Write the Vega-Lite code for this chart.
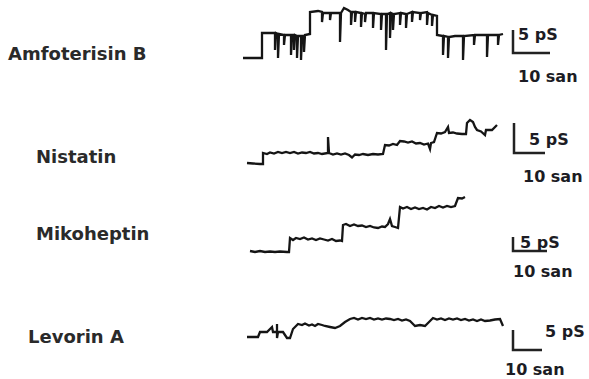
{
  "$schema": "https://vega.github.io/schema/vega-lite/v6.json",
  "width": 589,
  "height": 379,
  "autosize": {"type": "fit", "contains": "padding"},
  "padding": 0,
  "background": "white",
  "config": {"view": {"stroke": null}},
  "datasets": {
    "traces": [
      {"s":"A","t":24.3,"i":32.1},{"s":"A","t":26.2,"i":32.1},{"s":"A","t":26.2,"i":34.6},{"s":"A","t":27.0,"i":34.6},{"s":"A","t":27.5,"i":34.6},{"s":"A","t":27.5,"i":32.9},{"s":"A","t":27.6,"i":34.6},{"s":"A","t":27.8,"i":34.5},{"s":"A","t":27.8,"i":32.1},{"s":"A","t":27.9,"i":34.5},{"s":"A","t":28.4,"i":34.4},{"s":"A","t":28.4,"i":33.4},{"s":"A","t":28.5,"i":34.4},{"s":"A","t":29.1,"i":34.4},{"s":"A","t":29.1,"i":32.4},{"s":"A","t":29.2,"i":34.4},{"s":"A","t":29.4,"i":34.4},{"s":"A","t":29.4,"i":32.9},{"s":"A","t":29.5,"i":34.4},{"s":"A","t":29.7,"i":34.3},{"s":"A","t":29.7,"i":32.1},{"s":"A","t":29.8,"i":34.3},{"s":"A","t":30.1,"i":34.3},{"s":"A","t":30.1,"i":31.9},{"s":"A","t":30.2,"i":34.3},{"s":"A","t":30.4,"i":34.3},{"s":"A","t":30.4,"i":32.7},{"s":"A","t":30.5,"i":34.4},{"s":"A","t":31.0,"i":34.5},{"s":"A","t":31.0,"i":36.7},{"s":"A","t":31.8,"i":36.8},{"s":"A","t":32.2,"i":36.7},{"s":"A","t":32.2,"i":35.7},{"s":"A","t":32.3,"i":36.6},{"s":"A","t":33.0,"i":36.6},{"s":"A","t":33.0,"i":35.9},{"s":"A","t":33.1,"i":36.6},{"s":"A","t":34.0,"i":36.6},{"s":"A","t":34.0,"i":33.7},{"s":"A","t":34.1,"i":36.6},{"s":"A","t":34.4,"i":37.1},{"s":"A","t":34.8,"i":36.9},{"s":"A","t":35.1,"i":36.7},{"s":"A","t":35.1,"i":35.4},{"s":"A","t":35.2,"i":36.7},{"s":"A","t":35.5,"i":36.7},{"s":"A","t":35.5,"i":35.7},{"s":"A","t":35.6,"i":36.7},{"s":"A","t":36.1,"i":36.6},{"s":"A","t":36.1,"i":35.2},{"s":"A","t":36.2,"i":36.6},{"s":"A","t":36.5,"i":36.5},{"s":"A","t":36.5,"i":35.7},{"s":"A","t":36.6,"i":36.6},{"s":"A","t":37.3,"i":36.6},{"s":"A","t":37.3,"i":35.1},{"s":"A","t":37.4,"i":36.6},{"s":"A","t":38.1,"i":36.5},{"s":"A","t":38.1,"i":34.9},{"s":"A","t":38.2,"i":36.5},{"s":"A","t":38.6,"i":36.5},{"s":"A","t":38.6,"i":32.9},{"s":"A","t":38.7,"i":36.5},{"s":"A","t":39.0,"i":36.6},{"s":"A","t":39.0,"i":34.1},{"s":"A","t":39.1,"i":36.6},{"s":"A","t":39.3,"i":36.5},{"s":"A","t":39.3,"i":34.9},{"s":"A","t":39.4,"i":36.5},{"s":"A","t":40.0,"i":36.6},{"s":"A","t":40.0,"i":35.4},{"s":"A","t":40.1,"i":36.6},{"s":"A","t":40.6,"i":36.5},{"s":"A","t":40.6,"i":35.1},{"s":"A","t":40.7,"i":36.5},{"s":"A","t":41.2,"i":36.7},{"s":"A","t":41.2,"i":35.7},{"s":"A","t":41.3,"i":36.7},{"s":"A","t":42.0,"i":36.6},{"s":"A","t":42.0,"i":35.9},{"s":"A","t":42.1,"i":36.6},{"s":"A","t":42.7,"i":36.7},{"s":"A","t":42.7,"i":35.4},{"s":"A","t":42.8,"i":36.6},{"s":"A","t":43.2,"i":36.4},{"s":"A","t":43.2,"i":35.3},{"s":"A","t":43.3,"i":36.4},{"s":"A","t":43.7,"i":36.3},{"s":"A","t":43.7,"i":34.4},{"s":"A","t":44.3,"i":34.3},{"s":"A","t":44.3,"i":32.4},{"s":"A","t":44.4,"i":34.3},{"s":"A","t":44.8,"i":34.2},{"s":"A","t":44.8,"i":32.1},{"s":"A","t":44.9,"i":34.2},{"s":"A","t":45.5,"i":34.3},{"s":"A","t":46.3,"i":34.3},{"s":"A","t":46.3,"i":31.9},{"s":"A","t":46.4,"i":34.3},{"s":"A","t":47.4,"i":34.4},{"s":"A","t":47.4,"i":33.4},{"s":"A","t":47.5,"i":34.4},{"s":"A","t":48.7,"i":34.4},{"s":"A","t":48.7,"i":32.2},{"s":"A","t":48.8,"i":34.4},{"s":"A","t":49.8,"i":34.4},{"s":"A","t":49.8,"i":33.4},{"s":"A","t":49.9,"i":34.4},{"s":"A","t":50.3,"i":34.5},
      {"s":"N","t":24.7,"i":21.6},{"s":"N","t":25.3,"i":21.55},{"s":"N","t":26.0,"i":21.5},{"s":"N","t":26.3,"i":21.5},{"s":"N","t":26.3,"i":22.6},{"s":"N","t":26.7,"i":22.5},{"s":"N","t":27.0,"i":22.65},{"s":"N","t":27.4,"i":22.55},{"s":"N","t":27.8,"i":22.7},{"s":"N","t":28.2,"i":22.6},{"s":"N","t":28.6,"i":22.7},{"s":"N","t":29.0,"i":22.6},{"s":"N","t":29.4,"i":22.7},{"s":"N","t":29.8,"i":22.55},{"s":"N","t":30.2,"i":22.65},{"s":"N","t":30.6,"i":22.6},{"s":"N","t":31.0,"i":22.7},{"s":"N","t":31.4,"i":22.55},{"s":"N","t":31.8,"i":22.6},{"s":"N","t":32.2,"i":22.5},{"s":"N","t":32.8,"i":22.6},{"s":"N","t":32.8,"i":24.2},{"s":"N","t":32.9,"i":22.6},{"s":"N","t":33.3,"i":22.45},{"s":"N","t":33.7,"i":22.55},{"s":"N","t":34.1,"i":22.45},{"s":"N","t":34.5,"i":22.55},{"s":"N","t":34.9,"i":22.4},{"s":"N","t":35.2,"i":22.15},{"s":"N","t":35.5,"i":22.45},{"s":"N","t":35.9,"i":22.4},{"s":"N","t":36.3,"i":22.5},{"s":"N","t":36.8,"i":22.4},{"s":"N","t":37.3,"i":22.5},{"s":"N","t":37.8,"i":22.45},{"s":"N","t":38.3,"i":22.5},{"s":"N","t":38.5,"i":23.4},{"s":"N","t":38.9,"i":23.35},{"s":"N","t":39.3,"i":23.5},{"s":"N","t":39.7,"i":23.4},{"s":"N","t":40.0,"i":23.8},{"s":"N","t":40.4,"i":23.75},{"s":"N","t":40.8,"i":23.65},{"s":"N","t":41.2,"i":23.75},{"s":"N","t":41.6,"i":23.55},{"s":"N","t":42.0,"i":23.6},{"s":"N","t":42.4,"i":23.45},{"s":"N","t":42.8,"i":23.55},{"s":"N","t":43.0,"i":23.0},{"s":"N","t":43.1,"i":23.6},{"s":"N","t":43.4,"i":23.7},{"s":"N","t":43.7,"i":24.6},{"s":"N","t":44.1,"i":24.55},{"s":"N","t":44.5,"i":24.7},{"s":"N","t":44.8,"i":25.2},{"s":"N","t":44.9,"i":24.6},{"s":"N","t":45.3,"i":24.65},{"s":"N","t":45.7,"i":24.55},{"s":"N","t":46.2,"i":24.5},{"s":"N","t":46.6,"i":24.5},{"s":"N","t":46.7,"i":25.6},{"s":"N","t":47.0,"i":25.9},{"s":"N","t":47.3,"i":25.7},{"s":"N","t":47.5,"i":25.2},{"s":"N","t":47.7,"i":24.9},{"s":"N","t":48.1,"i":24.75},{"s":"N","t":48.5,"i":24.4},{"s":"N","t":48.6,"i":24.9},{"s":"N","t":49.2,"i":24.9},{"s":"N","t":49.7,"i":25.4},
      {"s":"M","t":25.0,"i":12.8},{"s":"M","t":25.5,"i":12.7},{"s":"M","t":26.0,"i":12.8},{"s":"M","t":26.5,"i":12.7},{"s":"M","t":27.0,"i":12.75},{"s":"M","t":27.5,"i":12.7},{"s":"M","t":28.0,"i":12.75},{"s":"M","t":28.7,"i":12.7},{"s":"M","t":28.9,"i":12.7},{"s":"M","t":29.0,"i":14.1},{"s":"M","t":29.3,"i":13.9},{"s":"M","t":29.6,"i":14.1},{"s":"M","t":30.0,"i":14.0},{"s":"M","t":30.4,"i":14.15},{"s":"M","t":30.8,"i":13.95},{"s":"M","t":31.2,"i":14.05},{"s":"M","t":31.6,"i":13.9},{"s":"M","t":32.0,"i":14.05},{"s":"M","t":32.4,"i":13.95},{"s":"M","t":32.8,"i":13.85},{"s":"M","t":33.2,"i":14.0},{"s":"M","t":33.6,"i":13.8},{"s":"M","t":34.0,"i":13.85},{"s":"M","t":34.2,"i":13.8},{"s":"M","t":34.3,"i":15.4},{"s":"M","t":34.6,"i":15.5},{"s":"M","t":35.0,"i":15.3},{"s":"M","t":35.4,"i":15.45},{"s":"M","t":35.8,"i":15.3},{"s":"M","t":36.2,"i":15.35},{"s":"M","t":36.6,"i":15.2},{"s":"M","t":37.0,"i":15.3},{"s":"M","t":37.4,"i":15.15},{"s":"M","t":37.8,"i":15.1},{"s":"M","t":38.2,"i":15.25},{"s":"M","t":38.5,"i":15.2},{"s":"M","t":38.8,"i":15.5},{"s":"M","t":39.0,"i":16.0},{"s":"M","t":39.2,"i":15.3},{"s":"M","t":39.5,"i":15.2},{"s":"M","t":39.8,"i":15.1},{"s":"M","t":40.0,"i":17.2},{"s":"M","t":40.3,"i":17.05},{"s":"M","t":40.7,"i":17.2},{"s":"M","t":41.1,"i":17.0},{"s":"M","t":41.5,"i":17.15},{"s":"M","t":41.9,"i":17.0},{"s":"M","t":42.3,"i":17.1},{"s":"M","t":42.7,"i":16.95},{"s":"M","t":43.1,"i":17.2},{"s":"M","t":43.5,"i":17.1},{"s":"M","t":43.9,"i":17.3},{"s":"M","t":44.3,"i":17.15},{"s":"M","t":44.7,"i":17.3},{"s":"M","t":45.1,"i":17.2},{"s":"M","t":45.5,"i":17.3},{"s":"M","t":45.8,"i":18.1},{"s":"M","t":46.2,"i":18.05},{"s":"M","t":46.5,"i":18.2},
      {"s":"L","t":24.7,"i":4.2},{"s":"L","t":25.8,"i":4.2},{"s":"L","t":26.0,"i":4.7},{"s":"L","t":26.7,"i":4.7},{"s":"L","t":27.2,"i":5.2},{"s":"L","t":27.3,"i":4.7},{"s":"L","t":27.7,"i":4.7},{"s":"L","t":27.7,"i":5.5},{"s":"L","t":27.7,"i":4.1},{"s":"L","t":27.8,"i":4.7},{"s":"L","t":28.3,"i":4.7},{"s":"L","t":28.7,"i":4.1},{"s":"L","t":29.0,"i":4.1},{"s":"L","t":29.3,"i":5.0},{"s":"L","t":29.8,"i":5.5},{"s":"L","t":30.2,"i":5.4},{"s":"L","t":30.5,"i":5.55},{"s":"L","t":30.9,"i":5.35},{"s":"L","t":31.2,"i":5.45},{"s":"L","t":31.5,"i":5.3},{"s":"L","t":31.8,"i":5.5},{"s":"L","t":32.2,"i":5.4},{"s":"L","t":32.5,"i":5.3},{"s":"L","t":33.0,"i":5.2},{"s":"L","t":33.5,"i":5.1},{"s":"L","t":34.0,"i":5.3},{"s":"L","t":34.5,"i":5.7},{"s":"L","t":35.0,"i":6.0},{"s":"L","t":35.4,"i":6.1},{"s":"L","t":35.8,"i":5.95},{"s":"L","t":36.2,"i":6.1},{"s":"L","t":36.6,"i":6.0},{"s":"L","t":37.0,"i":6.1},{"s":"L","t":37.4,"i":5.95},{"s":"L","t":37.8,"i":6.05},{"s":"L","t":38.2,"i":5.95},{"s":"L","t":38.6,"i":6.05},{"s":"L","t":39.0,"i":6.0},{"s":"L","t":39.4,"i":5.9},{"s":"L","t":39.8,"i":6.0},{"s":"L","t":40.2,"i":5.85},{"s":"L","t":40.6,"i":5.95},{"s":"L","t":41.0,"i":5.8},{"s":"L","t":41.5,"i":5.3},{"s":"L","t":42.0,"i":5.4},{"s":"L","t":42.5,"i":5.3},{"s":"L","t":43.3,"i":6.1},{"s":"L","t":43.7,"i":5.95},{"s":"L","t":44.1,"i":6.05},{"s":"L","t":44.5,"i":5.9},{"s":"L","t":44.9,"i":6.05},{"s":"L","t":45.3,"i":5.95},{"s":"L","t":45.7,"i":6.05},{"s":"L","t":46.1,"i":5.9},{"s":"L","t":46.5,"i":6.0},{"s":"L","t":46.9,"i":5.85},{"s":"L","t":47.3,"i":5.95},{"s":"L","t":47.7,"i":5.8},{"s":"L","t":48.1,"i":5.95},{"s":"L","t":48.5,"i":5.8},{"s":"L","t":49.0,"i":5.85},{"s":"L","t":49.5,"i":5.95},{"s":"L","t":50.0,"i":6.0},{"s":"L","t":50.3,"i":5.3}
    ],
    "bars": [
      {"s":"S1","t":51.3,"i":34.9},{"s":"S1","t":51.3,"i":32.6},{"s":"S1","t":55.0,"i":32.6},
      {"s":"S2","t":51.4,"i":25.6},{"s":"S2","t":51.4,"i":22.6},{"s":"S2","t":54.5,"i":22.6},
      {"s":"S3","t":51.3,"i":14.2},{"s":"S3","t":51.3,"i":12.8},{"s":"S3","t":54.7,"i":12.8},
      {"s":"S4","t":51.3,"i":4.9},{"s":"S4","t":51.3,"i":2.9},{"s":"S4","t":54.2,"i":2.9}
    ],
    "labels": [
      {"text":"Amfoterisin B","t":0.8,"i":31.9},
      {"text":"Nistatin","t":3.6,"i":21.6},
      {"text":"Mikoheptin","t":3.6,"i":13.9},
      {"text":"Levorin A","t":2.8,"i":3.6}
    ],
    "scaletext": [
      {"text":"5 pS","t":51.8,"i":33.9},
      {"text":"10 san","t":51.8,"i":29.7},
      {"text":"5 pS","t":52.9,"i":23.4},
      {"text":"10 san","t":52.3,"i":19.7},
      {"text":"5 pS","t":52.0,"i":13.1},
      {"text":"10 san","t":51.3,"i":10.2},
      {"text":"5 pS","t":54.5,"i":4.2},
      {"text":"10 san","t":50.5,"i":0.4}
    ]
  },
  "layer": [
    {
      "data": {"name": "traces"},
      "mark": {"type": "line", "color": "#151515", "strokeWidth": 2.3, "strokeJoin": "miter", "interpolate": "linear"},
      "encoding": {
        "x": {"field": "t", "type": "quantitative", "scale": {"domain": [0, 58.9], "nice": false, "zero": false}, "axis": null},
        "y": {"field": "i", "type": "quantitative", "scale": {"domain": [0, 37.9], "nice": false, "zero": false}, "axis": null},
        "detail": {"field": "s"},
        "order": {"value": null}
      }
    },
    {
      "data": {"name": "bars"},
      "mark": {"type": "line", "color": "#222222", "strokeWidth": 2.5, "strokeJoin": "miter"},
      "encoding": {
        "x": {"field": "t", "type": "quantitative"},
        "y": {"field": "i", "type": "quantitative"},
        "detail": {"field": "s"},
        "order": {"value": null}
      }
    },
    {
      "data": {"name": "labels"},
      "mark": {"type": "text", "align": "left", "baseline": "alphabetic", "font": "DejaVu Sans", "fontWeight": "bold", "fontSize": 18, "color": "#2a2a2a"},
      "encoding": {
        "x": {"field": "t", "type": "quantitative"},
        "y": {"field": "i", "type": "quantitative"},
        "text": {"field": "text"}
      }
    },
    {
      "data": {"name": "scaletext"},
      "mark": {"type": "text", "align": "left", "baseline": "alphabetic", "font": "DejaVu Sans", "fontWeight": "bold", "fontSize": 16, "color": "#1c1c24"},
      "encoding": {
        "x": {"field": "t", "type": "quantitative"},
        "y": {"field": "i", "type": "quantitative"},
        "text": {"field": "text"}
      }
    }
  ]
}
